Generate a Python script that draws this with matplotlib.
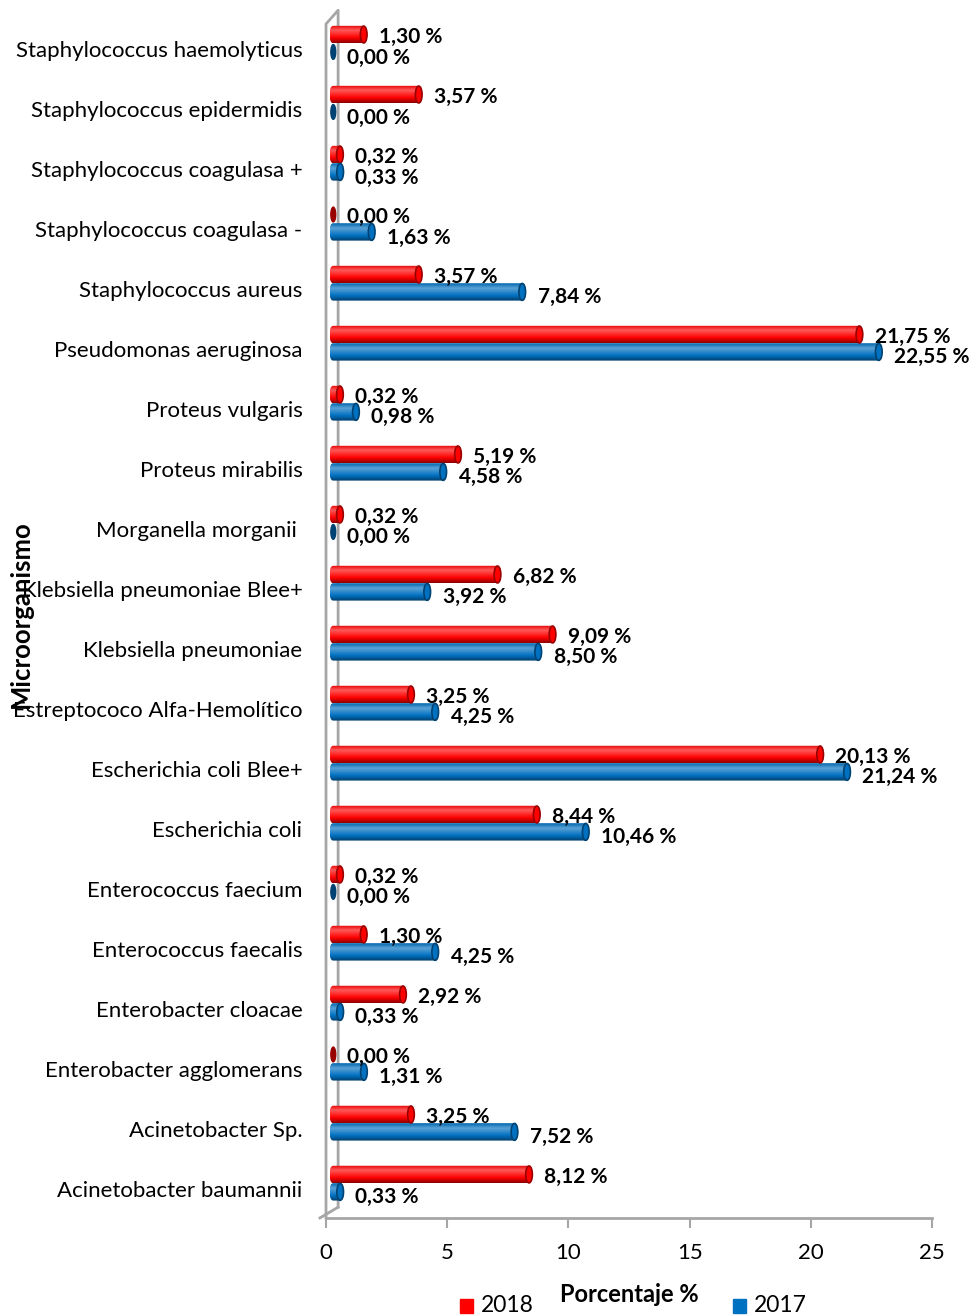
import numpy as np
import matplotlib.pyplot as plt
from matplotlib.patches import Ellipse, Rectangle, FancyBboxPatch
from matplotlib.colors import to_rgb

plt.rcParams['font.family'] = ['Lato', 'DejaVu Sans']

categories = [
    "Staphylococcus haemolyticus", "Staphylococcus epidermidis",
    "Staphylococcus coagulasa +", "Staphylococcus coagulasa -",
    "Staphylococcus aureus", "Pseudomonas aeruginosa", "Proteus vulgaris",
    "Proteus mirabilis", "Morganella morganii ", "Klebsiella pneumoniae Blee+",
    "Klebsiella pneumoniae", "Estreptococo Alfa-Hemolítico",
    "Escherichia coli Blee+", "Escherichia coli", "Enterococcus faecium",
    "Enterococcus faecalis", "Enterobacter cloacae",
    "Enterobacter agglomerans", "Acinetobacter Sp.", "Acinetobacter baumannii",
]
pct_2018 = [1.30, 3.57, 0.32, 0.00, 3.57, 21.75, 0.32, 5.19, 0.32, 6.82,
            9.09, 3.25, 20.13, 8.44, 0.32, 1.30, 2.92, 0.00, 3.25, 8.12]
pct_2017 = [0.00, 0.00, 0.33, 1.63, 7.84, 22.55, 0.98, 4.58, 0.00, 3.92,
            8.50, 4.25, 21.24, 10.46, 0.00, 4.25, 0.33, 1.31, 7.52, 0.33]
x_ticks = [0, 5, 10, 15, 20, 25]

X_START = 0.15   # where the cylinders begin (in front of the wall)
X_EXTRA = 0.40   # depth of the rounded end added to each value


def shade(base, n=64):
    # vertical cylinder shading: dark lower rim, light upper band
    base = np.array(to_rgb(base))
    dark = base * 0.55
    light = base + (1 - base) * 0.35
    t = np.linspace(0, 1, n)
    stops = [0.0, 0.3, 0.72, 1.0]
    cols = [dark, base, light, base * 0.9]
    rgb = np.stack([np.interp(t, stops, [c[k] for c in cols]) for k in range(3)], axis=1)
    return rgb[:, None, :]


def cylinder(ax, value, yc, h, base):
    dark = np.array(to_rgb(base)) * 0.6
    if value <= 0:
        ax.add_patch(Ellipse((0.3, yc), 0.2, h * 0.85, facecolor=dark,
                             edgecolor=dark, zorder=4))
        return X_START + 0.25
    x1 = value + X_EXTRA
    r = h / 2
    box = FancyBboxPatch((X_START, yc - r), x1 - X_START, h,
                         boxstyle=f"round,pad=0,rounding_size={r * 0.999}",
                         facecolor='none', edgecolor='none')
    ax.add_patch(box)
    img = ax.imshow(shade(base), extent=[X_START, x1, yc - r, yc + r],
                    origin='lower', aspect='auto', zorder=3,
                    interpolation='bilinear')
    img.set_clip_path(box)
    ax.add_patch(Ellipse((x1 - r, yc), 2 * r * 0.95, h * 0.97,
                         facecolor=to_rgb(base), edgecolor=dark, lw=1.2,
                         zorder=4))
    return x1


fig = plt.figure(figsize=(9.74, 13.16), dpi=100)
ax = fig.add_axes([0.3347, 0.0745, 0.6222, 0.9118])

n = len(categories)
ypos = np.arange(n)[::-1]
h = 0.29
red = '#ff0000'
blue = '#0070c0'

for y, r, b in zip(ypos, pct_2018, pct_2017):
    yr = y + 0.1 + h / 2
    yb = y + 0.1 - h / 2
    end_r = cylinder(ax, r, yr, h, red)
    end_b = cylinder(ax, b, yb, h, blue)
    ax.annotate(f"{r:.2f}".replace('.', ',') + " %", (end_r, yr),
                xytext=(8.5, -2), textcoords='offset points', ha='left',
                va='center', fontsize=15, fontweight='bold', zorder=6)
    ax.annotate(f"{b:.2f}".replace('.', ',') + " %", (end_b, yb),
                xytext=(8.5, -4), textcoords='offset points', ha='left',
                va='center', fontsize=15, fontweight='bold', zorder=6)

ax.set_xlim(0, 25)
ax.set_ylim(-0.48, 19.52)
ax.set_xticks(x_ticks)
ax.set_xticklabels([str(t) for t in x_ticks], fontsize=16)
ax.set_yticks(ypos)
ax.set_yticklabels(categories, fontsize=16)
ax.tick_params(axis='y', length=0, pad=17)
ax.tick_params(axis='x', length=7, width=1.5, color='#a6a6a6', pad=11)

for side in ['top', 'right', 'left']:
    ax.spines[side].set_visible(False)
ax.spines['bottom'].set_color('#a6a6a6')
ax.spines['bottom'].set_linewidth(2)

# 3D side wall outline
wall = '#a6a6a6'
ax.plot([0, 0, 0.5, 0.5], [-0.48, 19.42, 19.65, -0.3], color=wall, lw=2,
        clip_on=False, zorder=1)
ax.plot([0.5, -0.25], [-0.3, -0.48], color=wall, lw=2, clip_on=False, zorder=1)

fig.text(0.646, 0.0165, "Porcentaje %", fontsize=17, fontweight='bold',
         ha='center', va='center')
fig.text(0.021, 0.533, "Microorganismo", fontsize=18.5, fontweight='bold',
         rotation=90, ha='center', va='center')

# legend entries
fig.patches.append(Rectangle((0.4723, 0.0023), 0.0134, 0.0106, color=red,
                             transform=fig.transFigure))
fig.text(0.494, 0.0076, "2018", fontsize=16.5, ha='left', va='center')
fig.patches.append(Rectangle((0.7526, 0.0023), 0.0134, 0.0106, color=blue,
                             transform=fig.transFigure))
fig.text(0.774, 0.0076, "2017", fontsize=16.5, ha='left', va='center')

fig.savefig("out.png", dpi=100)
